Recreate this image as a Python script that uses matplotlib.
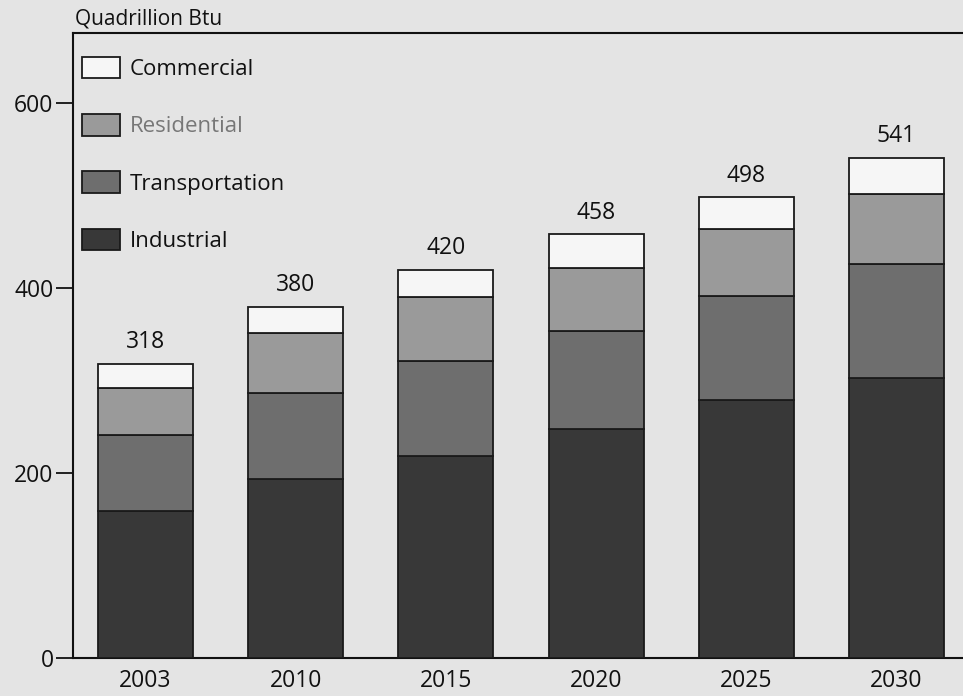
import matplotlib
matplotlib.use("Agg")
import matplotlib.pyplot as plt
from matplotlib.patches import Patch
import numpy as np

years = ["2003", "2010", "2015", "2020", "2025", "2030"]
industrial = [159, 194, 218, 248, 279, 303]
transportation = [82, 93, 103, 105, 112, 123]
residential = [51, 64, 69, 69, 73, 76]
commercial = [26, 29, 30, 36, 34, 39]
totals = [318, 380, 420, 458, 498, 541]

series = [
    ("Industrial", industrial, "#383838"),
    ("Transportation", transportation, "#6e6e6e"),
    ("Residential", residential, "#9a9a9a"),
    ("Commercial", commercial, "#f6f6f6"),
]

plt.rcParams["font.family"] = ["Open Sans", "DejaVu Sans"]
bg = "#e4e4e4"
fig = plt.figure(figsize=(9.63, 6.96), dpi=100, facecolor=bg)
ax = fig.add_axes([0.0758, 0.0546, 0.93, 0.898], facecolor=bg)

x = np.arange(len(years))
bottom = np.zeros(len(years))
for name, vals, col in series:
    ax.bar(x, vals, width=0.633, bottom=bottom, color=col,
           edgecolor="#1a1a1a", linewidth=1.3, label=name, zorder=3)
    bottom += np.array(vals)

for xi, t, b in zip(x, totals, bottom):
    ax.annotate(str(t), (xi, b), xytext=(0, 7), textcoords="offset points",
                ha="center", va="bottom", fontsize=16.5, color="#111111")

ax.set_xlim(-0.4827, 5.48)
ax.set_ylim(0, 675.7)
ax.set_yticks([0, 200, 400, 600])
ax.set_xticks(x)
ax.set_xticklabels(years)
ax.tick_params(axis="y", length=12, width=1.3, labelsize=16.5, pad=2, colors="#111111")
ax.tick_params(axis="x", length=0, labelsize=16.5, pad=8, colors="#111111")
for s in ["left", "top", "bottom"]:
    ax.spines[s].set_linewidth(1.5)
    ax.spines[s].set_color("#111111")
ax.spines["right"].set_visible(False)

fig.text(75 / 963, 1 - 25 / 696, "Quadrillion Btu", fontsize=15, ha="left",
         va="baseline", color="#111111")

handles = [Patch(facecolor=col, edgecolor="#1a1a1a", linewidth=1.3, label=name)
           for name, vals, col in series[::-1]]
leg = ax.legend(handles=handles, loc="upper left", bbox_to_anchor=(9 / 895.6, 1 - 24 / 625),
                frameon=False, fontsize=16, handlelength=1.71, handleheight=1.1,
                handletextpad=0.45, labelspacing=1.53, borderpad=0, borderaxespad=0)
for t in leg.get_texts():
    t.set_color("#111111")
leg.get_texts()[1].set_color("#777777")

fig.savefig("out.png", dpi=100, facecolor=bg)
